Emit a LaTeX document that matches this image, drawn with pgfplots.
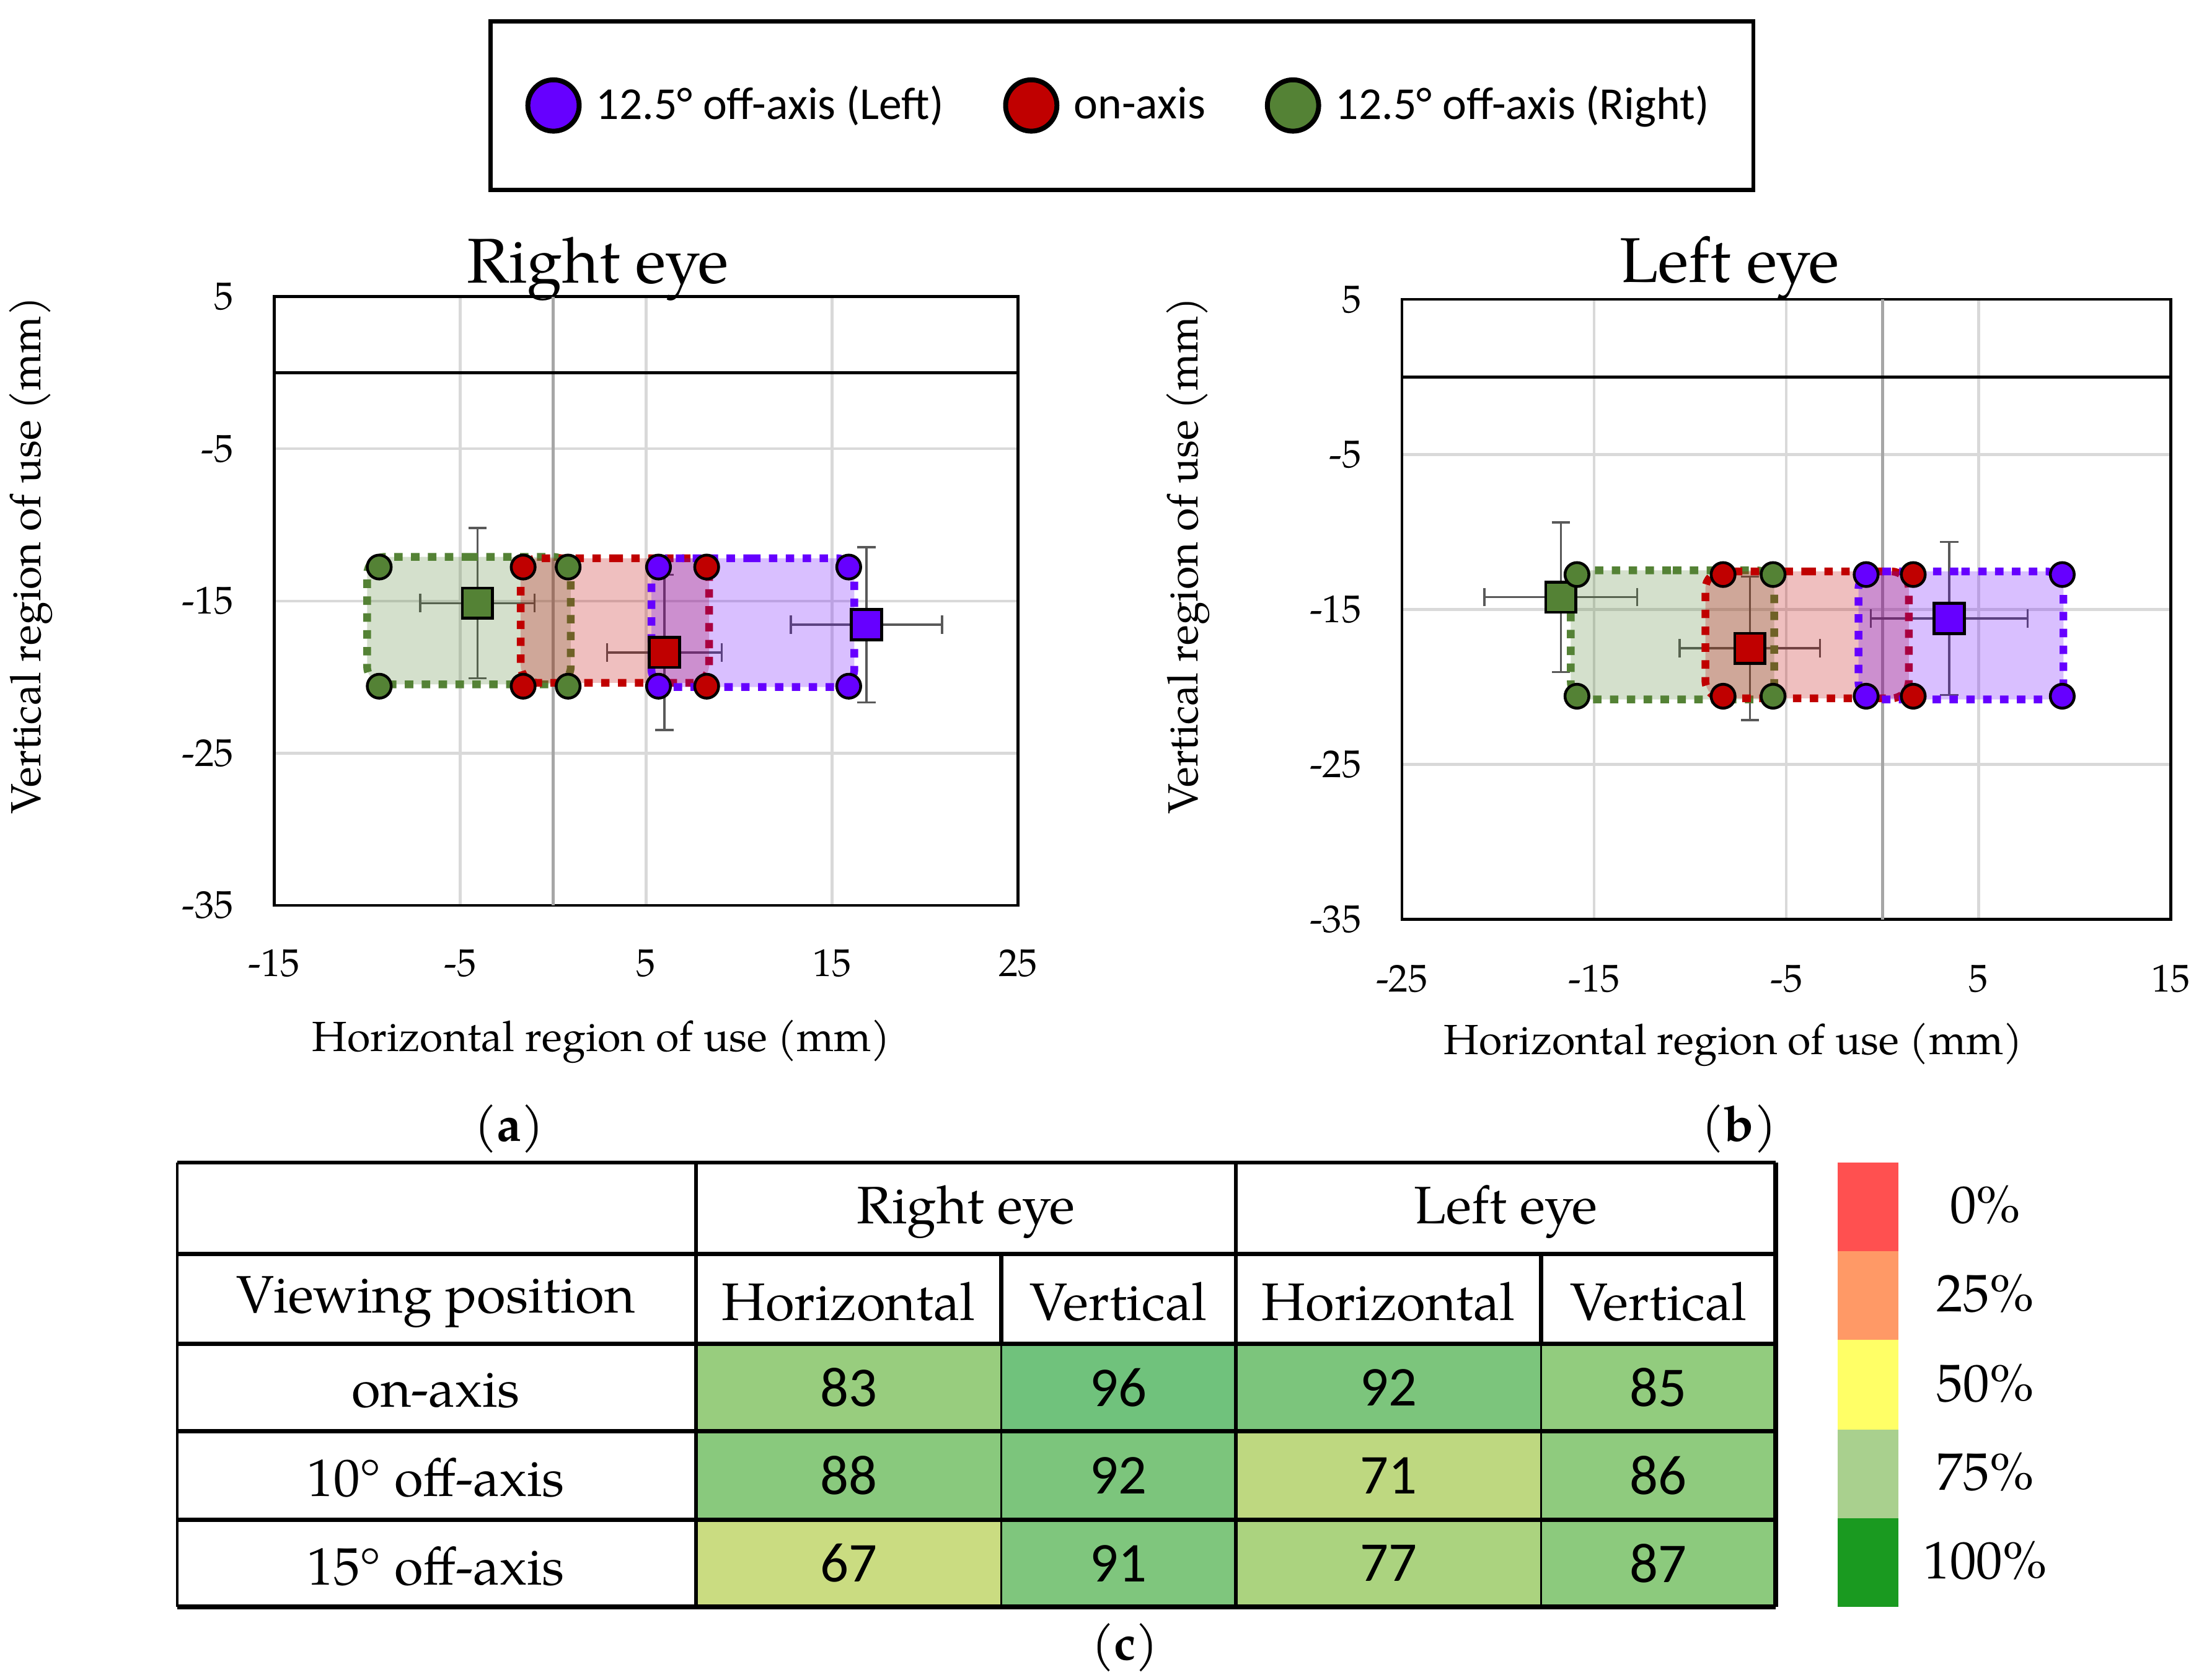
\documentclass[border=0pt]{standalone}
\usepackage{pgfplots}
\pgfplotsset{compat=1.18}
\usepgfplotslibrary{patchplots}
\usepackage{fontspec}
\setmainfont{TeX Gyre Pagella}
\newfontfamily\calibri{Carlito}
\newcommand\fsz[2]{\fontsize{#1}{#2}\selectfont}

\definecolor{cpurple}{HTML}{6600FF}
\definecolor{cred}{HTML}{C00000}
\definecolor{cgreen}{HTML}{548235}
\definecolor{errgray}{HTML}{595959}
\definecolor{gridgray}{HTML}{D9D9D9}
\definecolor{zerogray}{HTML}{A6A6A6}

\pgfplotsset{
  eye/.style={
    scale only axis, clip=false,
    axis line style={line width=0.8pt},
    tick style={draw=none},
    xmajorgrids, ymajorgrids,
    major grid style={gridgray, line width=0.8pt},
    ymin=-35, ymax=5,
    ytick={-35,-25,-15,-5,5}, yticklabels={-35,-25,-15,-5,5},
    tick label style={font=\fsz{11}{13}},
    xticklabel shift=9pt, yticklabel shift=8pt,
    label style={font=\fsz{12}{14}},
    xlabel style={anchor=center},
    ylabel style={anchor=center},
    xlabel={Horizontal region of use (mm)},
    ylabel={Vertical region of use (mm)},
    legend image code/.code={%
      \draw[##1, mark size=7.3pt, /tikz/every mark/.append style={line width=1.4pt}]
        plot coordinates {(0cm,0cm)};},
  },
  corner/.style={only marks, mark=*, mark size=3.4pt,
    mark options={draw=black, line width=0.8pt, fill=#1}},
  centre/.style={only marks, mark=square*, mark size=4.3pt, forget plot,
    mark options={draw=black, line width=0.8pt, fill=#1},
    error bars/.cd, x dir=both, x explicit, y dir=both, y explicit,
    error bar style={errgray, line width=0.6pt},
    error mark options={rotate=90, errgray, mark size=2.6pt, line width=0.6pt}},
  zone/.style={draw=#1, fill=#1, fill opacity=0.25, line width=2.2pt,
    dash pattern=on 2.4pt off 2.4pt, rounded corners=5pt, forget plot, mark=none},
}

\begin{document}
\begin{tikzpicture}
\path[use as bounding box] (0,0) rectangle (625.6pt,-478pt);

% the legend box belongs to the right-eye axis
\begin{axis}[eye,
  at={(78pt,-257.6pt)}, anchor=south west,
  width=211.6pt, height=173.2pt,
  xmin=-15, xmax=25,
  xtick={-15,-5,5,15,25}, xticklabels={-15,-5,5,15,25},
  xlabel style={at={(axis description cs:0.44,-0.224)}},
  ylabel style={at={(axis description cs:-0.327,0.575)}},
  legend columns=3, legend cell align=left,
  legend style={at={(axis description cs:1.140,1.314)}, anchor=center,
    draw=black, line width=1.2pt, font=\calibri\fsz{13}{15},
    minimum width=359.2pt, minimum height=48pt,
    nodes={minimum width=0pt, minimum height=0pt, inner sep=2pt},
    /tikz/every odd column/.append style={column sep=2.8pt},
    /tikz/every even column/.append style={column sep=15.6pt}},
]
\node[font=\fsz{18}{21}, anchor=center] at (axis description cs:0.435,1.046) {Right eye};
\addplot[forget plot, zerogray, line width=0.8pt] coordinates {(0,-35) (0,5)};
\addplot[forget plot, black, line width=0.8pt] coordinates {(-15,0) (25,0)};

\addplot[centre=cgreen]  coordinates {(-4.07,-15.14) +- (3.07,4.94)};
\addplot[centre=cred]    coordinates {(5.99,-18.38) +- (3.08,5.10)};
\addplot[centre=cpurple] coordinates {(16.85,-16.56) +- (4.07,5.10)};

\addplot[zone=cgreen]  coordinates {(-4.5,-12.10) (0.95,-12.10) (0.95,-20.48) (-10.0,-20.48) (-10.0,-12.10) (-4.5,-12.10)};
\addplot[zone=cred]    coordinates {(3.3,-12.19) (8.39,-12.19) (8.39,-20.38) (-1.74,-20.38) (-1.74,-12.19) (3.3,-12.19)};
\addplot[zone=cpurple] coordinates {(10.7,-12.19) (16.20,-12.19) (16.20,-20.65) (5.29,-20.65) (5.29,-12.19) (10.7,-12.19)};

\addplot[corner=cpurple] coordinates {(5.67,-12.77) (15.90,-12.77) (5.67,-20.60) (15.90,-20.60)};
\addlegendentry{12.5° off-axis (Left)}
\addplot[corner=cred] coordinates {(-1.61,-12.77) (8.26,-12.77) (-1.61,-20.60) (8.26,-20.60)};
\addlegendentry{on-axis}
\addplot[corner=cgreen] coordinates {(-9.35,-12.77) (0.81,-12.77) (-9.35,-20.60) (0.81,-20.60)};
\addlegendentry{12.5° off-axis (Right)}
\end{axis}

\begin{axis}[eye,
  at={(398.8pt,-261.6pt)}, anchor=south west,
  width=218.8pt, height=176.4pt,
  xmin=-25, xmax=15,
  xtick={-25,-15,-5,5,15}, xticklabels={-25,-15,-5,5,15},
  xticklabel shift=9.5pt,
  xlabel style={at={(axis description cs:0.431,-0.202)}},
  ylabel style={at={(axis description cs:-0.278,0.587)}},
]
\node[font=\fsz{18}{21}, anchor=center] at (axis description cs:0.426,1.050) {Left eye};
\addplot[forget plot, zerogray, line width=0.8pt] coordinates {(0,-35) (0,5)};
\addplot[forget plot, black, line width=0.8pt] coordinates {(-25,0) (15,0)};

\addplot[centre=cgreen]  coordinates {(-16.73,-14.21) +- (3.97,4.83)};
\addplot[centre=cred]    coordinates {(-6.90,-17.51) +- (3.65,4.63)};
\addplot[centre=cpurple] coordinates {(3.47,-15.58) +- (4.08,4.93)};

\addplot[zone=cgreen]  coordinates {(-10.9,-12.48) (-5.63,-12.48) (-5.63,-20.81) (-16.21,-20.81) (-16.21,-12.48) (-10.9,-12.48)};
\addplot[zone=cred]    coordinates {(-3.9,-12.55) (1.37,-12.55) (1.37,-20.74) (-9.21,-20.74) (-9.21,-12.55) (-3.9,-12.55)};
\addplot[zone=cpurple] coordinates {(4.1,-12.55) (9.41,-12.55) (9.41,-20.81) (-1.25,-20.81) (-1.25,-12.55) (4.1,-12.55)};

\addplot[corner=cpurple, forget plot] coordinates {(-0.85,-12.75) (9.35,-12.75) (-0.85,-20.60) (9.35,-20.60)};
\addplot[corner=cred, forget plot] coordinates {(-8.29,-12.75) (1.60,-12.75) (-8.29,-20.60) (1.60,-20.60)};
\addplot[corner=cgreen, forget plot] coordinates {(-15.89,-12.75) (-5.69,-12.75) (-15.89,-20.60) (-5.69,-20.60)};
\end{axis}

\node[font=\fsz{14}{16}] at (144.8pt,-321.2pt) {(\textbf{a})};
\node[font=\fsz{14}{16}] at (494.8pt,-321.2pt) {(\textbf{b})};
\node[font=\fsz{14}{16}] at (320pt,-468.8pt) {(\textbf{c})};

% table (c): coordinates in picture pixels, y downwards
\begin{axis}[
  at={(50.4pt,-457.2pt)}, anchor=south west,
  scale only axis, width=454.8pt, height=126.4pt,
  xmin=126, xmax=1263, ymin=827, ymax=1143, y dir=reverse,
  hide axis, clip=false,
  colormap={excel}{rgb255=(248,105,107) rgb255=(255,235,132) rgb255=(99,190,123)},
  point meta min=0, point meta max=100,
]
\addplot[patch, patch type=rectangle, shader=flat corner, point meta=explicit]
  table[x=x, y=y, meta=c] {
x y c
495 956 83
712 956 83
712 1018 83
495 1018 83
712 956 96
879 956 96
879 1018 96
712 1018 96
879 956 92
1096 956 92
1096 1018 92
879 1018 92
1096 956 85
1263 956 85
1263 1018 85
1096 1018 85
495 1018 88
712 1018 88
712 1081 88
495 1081 88
712 1018 92
879 1018 92
879 1081 92
712 1081 92
879 1018 71
1096 1018 71
1096 1081 71
879 1081 71
1096 1018 86
1263 1018 86
1263 1081 86
1096 1081 86
495 1081 67
712 1081 67
712 1143 67
495 1143 67
712 1081 91
879 1081 91
879 1143 91
712 1143 91
879 1081 77
1096 1081 77
1096 1143 77
879 1143 77
1096 1081 87
1263 1081 87
1263 1143 87
1096 1143 87
};

\addplot[only marks, mark=none, nodes near coords, point meta=explicit symbolic,
  nodes near coords align=center,
  every node near coord/.append style={font=\calibri\fsz{16}{18}, text=black}]
  table[x=x, y=y, meta=v] {
x y v
603.5 987 83
795.5 987 96
987.5 987 92
1179.5 987 85
603.5 1049.5 88
795.5 1049.5 92
987.5 1049.5 71
1179.5 1049.5 86
603.5 1112 67
795.5 1112 91
987.5 1112 77
1179.5 1112 87
};

% rules
\draw[line width=1.2pt] (126,827) -- (1263,827);
\draw[line width=1.2pt] (126,892) -- (1263,892);
\draw[line width=1.2pt] (126,956) -- (1263,956);
\draw[line width=1.2pt] (126,1018) -- (1263,1018);
\draw[line width=1.2pt] (126,1081) -- (1263,1081);
\draw[line width=1.4pt] (126,1143) -- (1263,1143);
\draw[line width=0.8pt] (126,827) -- (126,1143);
\draw[line width=1.2pt] (495,827) -- (495,1143);
\draw[line width=1.2pt] (879,827) -- (879,1143);
\draw[line width=1.4pt] (1263,827) -- (1263,1143);
\draw[line width=1.2pt] (712,892) -- (712,956);
\draw[line width=1.2pt] (1096,892) -- (1096,956);
\draw[line width=0.5pt] (712,956) -- (712,1143);
\draw[line width=0.5pt] (1096,956) -- (1096,1143);

\begin{scope}[font=\fsz{15}{17}]
\node at (687,862) {Right eye};
\node at (1071,862) {Left eye};
\node at (310,926) {Viewing position};
\node at (603.5,926) {Horizontal};
\node at (795.5,926) {Vertical};
\node at (987.5,926) {Horizontal};
\node at (1179.5,926) {Vertical};
\node at (310,989) {on-axis};
\node at (310,1051) {10° off-axis};
\node at (310,1114) {15° off-axis};
\end{scope}

% colour key
\fill[color={rgb,255:red,255;green,80;blue,80}]   (1307,827) rectangle (1350,890);
\fill[color={rgb,255:red,255;green,153;blue,102}] (1307,890) rectangle (1350,953);
\fill[color={rgb,255:red,255;green,255;blue,102}] (1307,953) rectangle (1350,1017);
\fill[color={rgb,255:red,169;green,208;blue,142}] (1307,1017) rectangle (1350,1080);
\fill[color={rgb,255:red,26;green,154;blue,32}]   (1307,1080) rectangle (1350,1143);
\begin{scope}[font=\fsz{15}{17}]
\node at (1412,857) {0\%};
\node at (1412,920) {25\%};
\node at (1412,984) {50\%};
\node at (1412,1047) {75\%};
\node at (1412,1110) {100\%};
\end{scope}
\end{axis}
\end{tikzpicture}
\end{document}
